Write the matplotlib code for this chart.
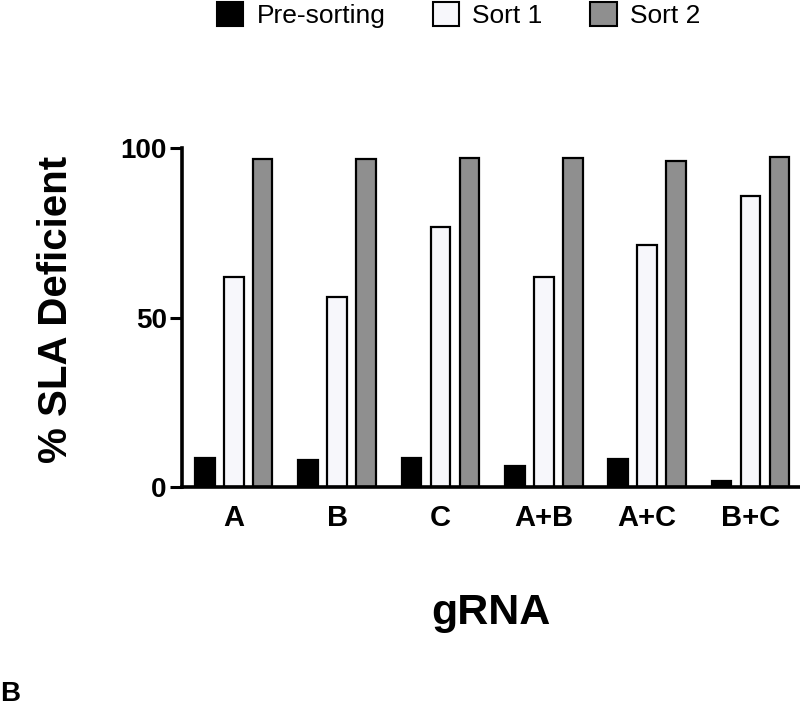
import matplotlib
matplotlib.use("Agg")
import matplotlib.pyplot as plt
from matplotlib.patches import Patch
import numpy as np

plt.rcParams['font.family'] = ['Liberation Sans', 'DejaVu Sans']

categories = ["A", "B", "C", "A+B", "A+C", "B+C"]
series_names = ["Pre-sorting", "Sort 1", "Sort 2"]
pre_sorting = [8.6, 8.0, 8.6, 6.2, 8.3, 1.9]
sort1 = [61.9, 56.0, 76.6, 61.9, 71.4, 85.9]
sort2 = [96.8, 96.8, 97.0, 97.0, 96.2, 97.3]
y_ticks = [0, 50, 100]

colors = ["#000000", "#f7f7fb", "#8f8f8f"]

fig = plt.figure(figsize=(8, 7.11), dpi=100)
ax = fig.add_axes([0.2275, 0.315, 0.7715, 0.4768])

x = np.arange(len(categories))
offset = 0.28
width = 0.19
for i, (vals, name, c) in enumerate(zip([pre_sorting, sort1, sort2], series_names, colors)):
    ax.bar(x + (i - 1) * offset, vals, width, color=c, edgecolor="black", linewidth=1.6, label=name)

ax.set_xlim(-0.5, 5.47)
ax.set_ylim(0, 100)
ax.set_yticks(y_ticks)
ax.set_yticklabels([str(t) for t in y_ticks], fontsize=20, fontweight="bold")
ax.set_xticks(x)
ax.set_xticklabels(categories, fontsize=21, fontweight="bold")
ax.tick_params(axis="x", length=0, pad=12)
ax.tick_params(axis="y", length=9, width=2.2, pad=2)
for s in ["top", "right"]:
    ax.spines[s].set_visible(False)
ax.spines["left"].set_linewidth(2.6)
ax.spines["bottom"].set_linewidth(2.6)

ax.set_ylabel("% SLA Deficient", fontsize=29, fontweight="bold")
ax.yaxis.set_label_coords(-0.173, 0.525)
ax.set_xlabel("gRNA", fontsize=31, fontweight="bold", labelpad=44)

handles = [Patch(facecolor=c, edgecolor="black", linewidth=1.5) for c in colors]
fig.legend(handles, series_names, loc="upper left", bbox_to_anchor=(0.258, 1.012), ncol=3,
           frameon=False, fontsize=19, handlelength=1.0, handleheight=1.0,
           handletextpad=0.5, columnspacing=1.8, borderaxespad=0)

fig.text(0.0, 0.006, "B", fontsize=20, fontweight="bold", ha="left", va="bottom")

fig.savefig("out.png", dpi=100)
